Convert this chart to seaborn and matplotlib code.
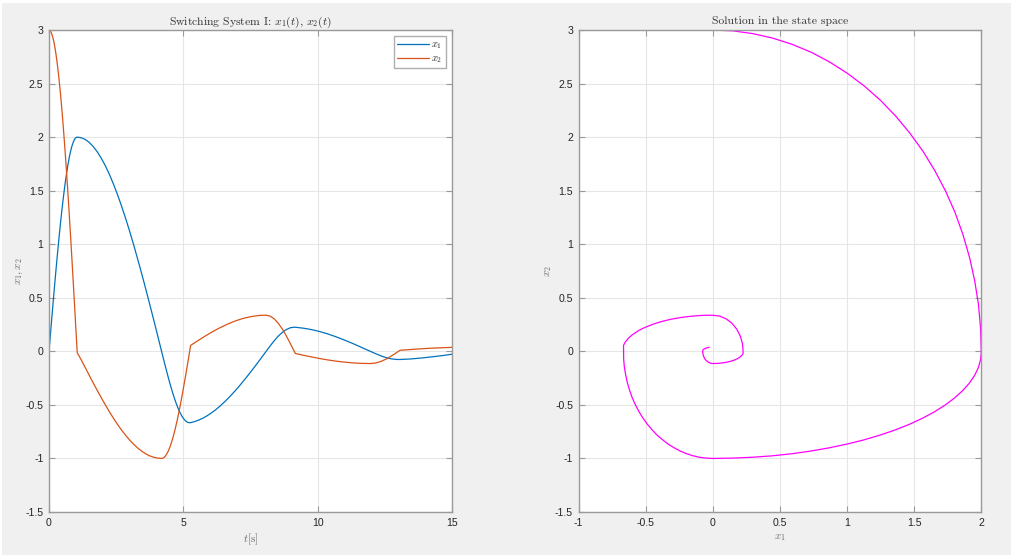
import numpy as np
import pandas as pd
import matplotlib
matplotlib.use("Agg")
import matplotlib.pyplot as plt
import seaborn as sns
from matplotlib.patches import Rectangle

# ---- data ----
t = [0, 0.05, 0.1, 0.15, 0.2, 0.25, 0.3, 0.35, 0.4, 0.45, 0.5, 0.55, 0.6, 0.65,
     0.7, 0.75, 0.8, 0.85, 0.9, 0.95, 1.0, 1.05,
     1.20, 1.35, 1.50, 1.65, 1.80, 1.95, 2.10, 2.25, 2.40, 2.55, 2.70, 2.85,
     3.00, 3.15, 3.30, 3.45, 3.60, 3.75, 3.90, 4.05, 4.19,
     4.24, 4.29, 4.34, 4.39, 4.44, 4.49, 4.54, 4.59, 4.64, 4.69, 4.74, 4.79,
     4.84, 4.89, 4.94, 4.99, 5.04, 5.09, 5.14, 5.19, 5.27,
     5.42, 5.57, 5.72, 5.87, 6.02, 6.17, 6.32, 6.47, 6.62, 6.77, 6.92, 7.07,
     7.22, 7.37, 7.52, 7.67, 7.82, 7.97, 8.08,
     8.23, 8.38, 8.53, 8.68, 8.83, 8.98, 9.08, 9.17,
     9.47, 9.77, 10.07, 10.37, 10.67, 10.97, 11.27, 11.57, 11.96,
     12.16, 12.36, 12.56, 12.76, 12.96, 13.07,
     13.47, 13.87, 14.27, 14.67, 15.0]

x1 = [0, 0.150, 0.299, 0.446, 0.591, 0.733, 0.870, 1.002, 1.129, 1.250, 1.363,
      1.469, 1.567, 1.655, 1.735, 1.805, 1.864, 1.913, 1.951, 1.979, 1.995, 2.0,
      1.994, 1.978, 1.950, 1.911, 1.861, 1.801, 1.731, 1.651, 1.561, 1.463,
      1.356, 1.243, 1.122, 0.995, 0.862, 0.725, 0.583, 0.438, 0.291, 0.141, 0.0,
      -0.050, -0.100, -0.149, -0.197, -0.244, -0.290, -0.334, -0.376, -0.417, -0.454,
      -0.490, -0.522, -0.552, -0.578, -0.602, -0.621, -0.638, -0.650, -0.660, -0.665, -0.666,
      -0.656, -0.642, -0.625, -0.604, -0.579, -0.552, -0.521, -0.487, -0.451, -0.412,
      -0.371, -0.328, -0.282, -0.236, -0.188, -0.139, -0.089, -0.038, -0.001,
      0.050, 0.098, 0.141, 0.176, 0.203, 0.220, 0.224, 0.225,
      0.216, 0.203, 0.185, 0.163, 0.137, 0.108, 0.077, 0.044, 0.0,
      -0.022, -0.043, -0.060, -0.071, -0.076, -0.076,
      -0.071, -0.062, -0.051, -0.039, -0.027]

x2 = [3.0, 2.992, 2.966, 2.924, 2.866, 2.792, 2.701, 2.596, 2.476, 2.342, 2.195,
      2.035, 1.865, 1.684, 1.493, 1.294, 1.087, 0.874, 0.657, 0.436, 0.212, -0.012,
      -0.080, -0.152, -0.225, -0.297, -0.367, -0.435, -0.501, -0.565, -0.625, -0.682,
      -0.735, -0.783, -0.828, -0.867, -0.902, -0.932, -0.957, -0.976, -0.989, -0.997, -1.0,
      -0.997, -0.989, -0.975, -0.955, -0.931, -0.900, -0.865, -0.825, -0.781, -0.732,
      -0.678, -0.622, -0.561, -0.498, -0.431, -0.362, -0.291, -0.219, -0.145, -0.071, 0.055,
      0.080, 0.104, 0.128, 0.151, 0.173, 0.195, 0.215, 0.233, 0.251, 0.267,
      0.282, 0.295, 0.307, 0.316, 0.324, 0.330, 0.335, 0.337, 0.337,
      0.329, 0.304, 0.263, 0.210, 0.146, 0.074, 0.024, -0.020,
      -0.037, -0.052, -0.067, -0.080, -0.091, -0.100, -0.107, -0.112, -0.114,
      -0.109, -0.094, -0.071, -0.041, -0.008, 0.010,
      0.017, 0.024, 0.030, 0.034, 0.037]

t_ticks = [0, 5, 10, 15]
x1_ticks = [-1, -0.5, 0, 0.5, 1, 1.5, 2]
y_ticks = [-1.5, -1, -0.5, 0, 0.5, 1, 1.5, 2, 2.5, 3]

df = pd.DataFrame({"t": t, "x1": x1, "x2": x2})

# ---- style ----
sns.set_theme(style="white")
plt.rcParams["font.family"] = ["Liberation Sans", "DejaVu Sans"]
plt.rcParams["mathtext.fontset"] = "cm"
plt.rcParams["axes.unicode_minus"] = False

BLUE = "#0072BD"
ORANGE = "#D95319"
MAGENTA = "#FF00FF"
SPINE = "#9a9a9a"
GRID = "#e6e6e6"
TICKC = "#262626"
LABC = "#6e6e6e"
LW = 0.9

fig = plt.figure(figsize=(10.12, 5.55), dpi=100, facecolor="white")
fig.patches.append(Rectangle((2 / 1012, 0), 1 - 2 / 1012, 1 - 3 / 555,
                             transform=fig.transFigure, facecolor="#f0f0f0",
                             edgecolor="none", zorder=-10))

ax1 = fig.add_axes([49 / 1012, 43 / 555, 403 / 1012, 482 / 555])
ax2 = fig.add_axes([578.7 / 1012, 43 / 555, 402.6 / 1012, 482 / 555])


def fmt(v):
    return "%g" % v


def style(ax, xticks, xlim):
    ax.set_facecolor("white")
    ax.set_xlim(*xlim)
    ax.set_ylim(-1.5, 3)
    ax.set_xticks(xticks)
    ax.set_yticks(y_ticks)
    ax.set_xticklabels([fmt(v) for v in xticks])
    ax.set_yticklabels([fmt(v) for v in y_ticks])
    ax.grid(True, color=GRID, linewidth=0.8)
    ax.set_axisbelow(True)
    for sp in ax.spines.values():
        sp.set_visible(True)
        sp.set_color(SPINE)
        sp.set_linewidth(1.0)
    ax.tick_params(direction="in", length=4, width=0.8, color=SPINE,
                   labelsize=7.6, labelcolor=TICKC, top=True, right=True,
                   bottom=True, left=True, pad=4)


sns.lineplot(data=df, x="t", y="x1", ax=ax1, color=BLUE, linewidth=LW,
             label=r"$x_1$", sort=False, estimator=None)
sns.lineplot(data=df, x="t", y="x2", ax=ax1, color=ORANGE, linewidth=LW,
             label=r"$x_2$", sort=False, estimator=None)
style(ax1, t_ticks, (0, 15))
ax1.set_title(r"Switching System I: $x_1(t)$, $x_2(t)$", family="cmr10",
              fontsize=8.4, color="#333333", pad=4)
ax1.set_xlabel(r"$t[\mathrm{s}]$", fontsize=8, color=LABC, labelpad=3)
ax1.set_ylabel(r"$x_1, x_2$", fontsize=8, color=LABC, labelpad=0.5)
leg = ax1.legend(loc="upper right", fontsize=7.5, frameon=True, fancybox=False,
                 handlelength=3.1, handletextpad=0.2, borderpad=0.3,
                 labelspacing=0.2, borderaxespad=0.6)
leg.get_frame().set_edgecolor(SPINE)
leg.get_frame().set_linewidth(1.0)

sns.lineplot(data=df, x="x1", y="x2", ax=ax2, color=MAGENTA, linewidth=LW,
             sort=False, estimator=None)
style(ax2, x1_ticks, (-1, 2))
ax2.set_title("Solution in the state space", family="cmr10", fontsize=8.4,
              color="#333333", pad=4)
ax2.set_xlabel(r"$x_1$", fontsize=8, color=LABC, labelpad=3)
ax2.set_ylabel(r"$x_2$", fontsize=8, color=LABC, labelpad=0.5)

fig.savefig("out.png", dpi=100, facecolor=fig.get_facecolor())
